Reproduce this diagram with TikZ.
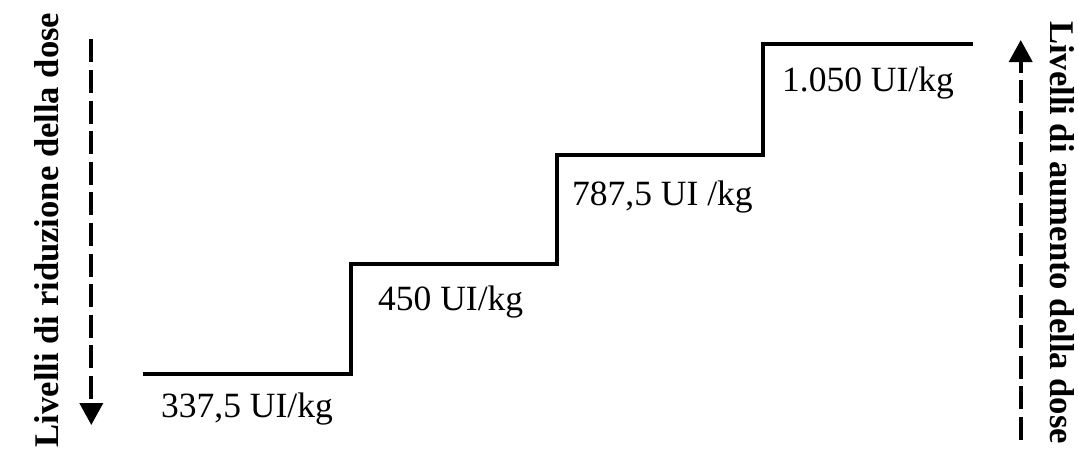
\documentclass[tikz,border=0pt]{standalone}
\usepackage{fontspec}
\setmainfont{Liberation Serif}
\usetikzlibrary{arrows.meta}
\begin{document}
\begin{tikzpicture}[x=1pt,y=-1pt,
  stairline/.style={line width=3.3pt, line join=miter},
  dosearrow/.style={line width=3.8pt, dash pattern=on 23pt off 7.6pt, -{Triangle[length=22pt,width=23pt]}},
  doselabel/.style={inner sep=0pt, anchor=base west, font=\fontsize{35.5}{40}\selectfont},
  sidelabel/.style={inner sep=0pt, anchor=base, font=\fontsize{34.6}{40}\selectfont\bfseries}]
\useasboundingbox (0,0) rectangle (1078,461);
% staircase
\coordinate (s0) at (143,374);
\coordinate (s1) at (351,264);
\coordinate (s2) at (557,155);
\coordinate (s3) at (763,44);
\coordinate (s4) at (973,44);
\draw[stairline] (s0) -| (s1) -| (s2) -| (s3) -- (s4);
% dose labels
\node[doselabel] (d1) at (161,417) {337,5 UI/kg};
\node[doselabel] (d2) at (378,310) {450 UI/kg};
\node[doselabel] (d3) at (572,205) {787,5 UI /kg};
\node[doselabel] (d4) at (782,91) {1.050 UI/kg};
% side labels
\node[sidelabel, rotate=90] (lred) at (58,230) {Livelli di riduzione della dose};
\node[sidelabel, rotate=-90] (laum) at (1050,232.5) {Livelli di aumento della dose};
% arrows
\coordinate (la) at (91.3,39.3);
\coordinate (lb) at (91.3,425);
\draw[dosearrow] (la) -- (lb);
\coordinate (ra) at (1020.7,440);
\coordinate (rb) at (1020.7,40);
\draw[dosearrow] (ra) -- (rb);
\end{tikzpicture}
\end{document}
